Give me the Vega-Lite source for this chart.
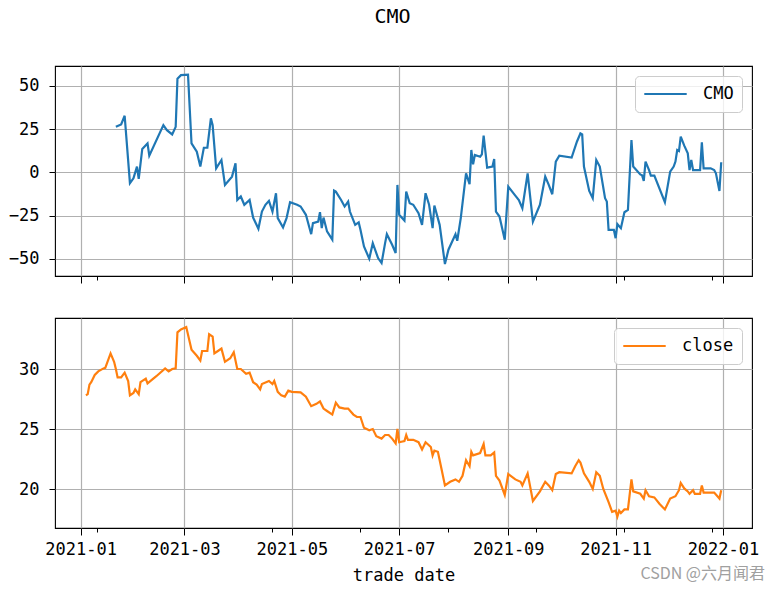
{
  "$schema": "https://vega.github.io/schema/vega-lite/v6.json",
  "padding": {"left": 7, "top": 7, "right": 0, "bottom": 0},
  "background": "white",
  "title": {"text": "CMO", "font": "DejaVu Sans Mono", "fontSize": 20, "fontWeight": "normal", "color": "#000", "anchor": "middle", "frame": "group", "dx": -11, "offset": 38},
  "datasets": {
    "cmo": [
      {"trade_date": "2021-01-21", "CMO": 26.3},
      {"trade_date": "2021-01-24", "CMO": 27.7},
      {"trade_date": "2021-01-26", "CMO": 32.7},
      {"trade_date": "2021-01-29", "CMO": -6.3},
      {"trade_date": "2021-01-31", "CMO": -3.5},
      {"trade_date": "2021-02-02", "CMO": 3.3},
      {"trade_date": "2021-02-03", "CMO": -3.8},
      {"trade_date": "2021-02-05", "CMO": 13.5},
      {"trade_date": "2021-02-08", "CMO": 16.7},
      {"trade_date": "2021-02-09", "CMO": 9.6},
      {"trade_date": "2021-02-17", "CMO": 27.3},
      {"trade_date": "2021-02-19", "CMO": 24.4},
      {"trade_date": "2021-02-22", "CMO": 21.9},
      {"trade_date": "2021-02-24", "CMO": 26.3},
      {"trade_date": "2021-02-25", "CMO": 54.2},
      {"trade_date": "2021-02-27", "CMO": 56.2},
      {"trade_date": "2021-03-03", "CMO": 56.5},
      {"trade_date": "2021-03-05", "CMO": 16.7},
      {"trade_date": "2021-03-08", "CMO": 11.9},
      {"trade_date": "2021-03-10", "CMO": 3.3},
      {"trade_date": "2021-03-12", "CMO": 14.2},
      {"trade_date": "2021-03-14", "CMO": 14.2},
      {"trade_date": "2021-03-16", "CMO": 31.2},
      {"trade_date": "2021-03-17", "CMO": 27.3},
      {"trade_date": "2021-03-19", "CMO": 2.3},
      {"trade_date": "2021-03-22", "CMO": 7.1},
      {"trade_date": "2021-03-24", "CMO": -7.3},
      {"trade_date": "2021-03-28", "CMO": -2.5},
      {"trade_date": "2021-03-30", "CMO": 5.2},
      {"trade_date": "2021-03-31", "CMO": -16},
      {"trade_date": "2021-04-02", "CMO": -14},
      {"trade_date": "2021-04-04", "CMO": -18.8},
      {"trade_date": "2021-04-07", "CMO": -16},
      {"trade_date": "2021-04-09", "CMO": -26.2},
      {"trade_date": "2021-04-12", "CMO": -32.7},
      {"trade_date": "2021-04-14", "CMO": -22.7},
      {"trade_date": "2021-04-16", "CMO": -18.8},
      {"trade_date": "2021-04-18", "CMO": -16.5},
      {"trade_date": "2021-04-20", "CMO": -22.7},
      {"trade_date": "2021-04-22", "CMO": -12.1},
      {"trade_date": "2021-04-23", "CMO": -26.5},
      {"trade_date": "2021-04-26", "CMO": -31.9},
      {"trade_date": "2021-04-28", "CMO": -26.5},
      {"trade_date": "2021-04-30", "CMO": -17.3},
      {"trade_date": "2021-05-04", "CMO": -18.8},
      {"trade_date": "2021-05-06", "CMO": -19.8},
      {"trade_date": "2021-05-09", "CMO": -24.6},
      {"trade_date": "2021-05-12", "CMO": -35.8},
      {"trade_date": "2021-05-13", "CMO": -29.4},
      {"trade_date": "2021-05-16", "CMO": -28.5},
      {"trade_date": "2021-05-17", "CMO": -23.1},
      {"trade_date": "2021-05-18", "CMO": -32.3},
      {"trade_date": "2021-05-19", "CMO": -26.2},
      {"trade_date": "2021-05-21", "CMO": -34.2},
      {"trade_date": "2021-05-24", "CMO": -39},
      {"trade_date": "2021-05-25", "CMO": -10.6},
      {"trade_date": "2021-05-26", "CMO": -11.2},
      {"trade_date": "2021-05-29", "CMO": -16},
      {"trade_date": "2021-05-31", "CMO": -19.8},
      {"trade_date": "2021-06-02", "CMO": -16.9},
      {"trade_date": "2021-06-03", "CMO": -22.7},
      {"trade_date": "2021-06-06", "CMO": -30.4},
      {"trade_date": "2021-06-08", "CMO": -29},
      {"trade_date": "2021-06-09", "CMO": -33.3},
      {"trade_date": "2021-06-11", "CMO": -42.9},
      {"trade_date": "2021-06-14", "CMO": -50},
      {"trade_date": "2021-06-16", "CMO": -41},
      {"trade_date": "2021-06-19", "CMO": -49.6},
      {"trade_date": "2021-06-21", "CMO": -52.5},
      {"trade_date": "2021-06-23", "CMO": -41},
      {"trade_date": "2021-06-24", "CMO": -35.8},
      {"trade_date": "2021-06-27", "CMO": -41.9},
      {"trade_date": "2021-06-29", "CMO": -46.7},
      {"trade_date": "2021-06-30", "CMO": -7.3},
      {"trade_date": "2021-07-01", "CMO": -24.6},
      {"trade_date": "2021-07-04", "CMO": -27.9},
      {"trade_date": "2021-07-05", "CMO": -11.2},
      {"trade_date": "2021-07-07", "CMO": -17.9},
      {"trade_date": "2021-07-09", "CMO": -18.8},
      {"trade_date": "2021-07-12", "CMO": -23.7},
      {"trade_date": "2021-07-14", "CMO": -30.4},
      {"trade_date": "2021-07-16", "CMO": -12.1},
      {"trade_date": "2021-07-18", "CMO": -18.8},
      {"trade_date": "2021-07-20", "CMO": -32.3},
      {"trade_date": "2021-07-21", "CMO": -19.2},
      {"trade_date": "2021-07-24", "CMO": -30.4},
      {"trade_date": "2021-07-27", "CMO": -53.1},
      {"trade_date": "2021-07-29", "CMO": -44.8},
      {"trade_date": "2021-08-02", "CMO": -35.8},
      {"trade_date": "2021-08-03", "CMO": -39.6},
      {"trade_date": "2021-08-05", "CMO": -26.5},
      {"trade_date": "2021-08-08", "CMO": -0.6},
      {"trade_date": "2021-08-10", "CMO": -6.9},
      {"trade_date": "2021-08-11", "CMO": 12.9},
      {"trade_date": "2021-08-12", "CMO": 4.6},
      {"trade_date": "2021-08-13", "CMO": 10},
      {"trade_date": "2021-08-16", "CMO": 9},
      {"trade_date": "2021-08-17", "CMO": 10.4},
      {"trade_date": "2021-08-18", "CMO": 21.2},
      {"trade_date": "2021-08-20", "CMO": 2.7},
      {"trade_date": "2021-08-23", "CMO": 3.3},
      {"trade_date": "2021-08-24", "CMO": 7.7},
      {"trade_date": "2021-08-25", "CMO": -22.7},
      {"trade_date": "2021-08-27", "CMO": -25.6},
      {"trade_date": "2021-08-30", "CMO": -39},
      {"trade_date": "2021-09-01", "CMO": -8.3},
      {"trade_date": "2021-09-05", "CMO": -13.5},
      {"trade_date": "2021-09-07", "CMO": -16},
      {"trade_date": "2021-09-09", "CMO": -20.8},
      {"trade_date": "2021-09-12", "CMO": -0.6},
      {"trade_date": "2021-09-15", "CMO": -28.5},
      {"trade_date": "2021-09-19", "CMO": -18.8},
      {"trade_date": "2021-09-22", "CMO": -2.5},
      {"trade_date": "2021-09-24", "CMO": -7.3},
      {"trade_date": "2021-09-26", "CMO": -12.7},
      {"trade_date": "2021-09-28", "CMO": 6.2},
      {"trade_date": "2021-09-30", "CMO": 9.6},
      {"trade_date": "2021-10-07", "CMO": 8.5},
      {"trade_date": "2021-10-10", "CMO": 17.7},
      {"trade_date": "2021-10-12", "CMO": 22.5},
      {"trade_date": "2021-10-13", "CMO": 21.9},
      {"trade_date": "2021-10-14", "CMO": 3.3},
      {"trade_date": "2021-10-17", "CMO": -10.8},
      {"trade_date": "2021-10-19", "CMO": -15},
      {"trade_date": "2021-10-21", "CMO": 7.1},
      {"trade_date": "2021-10-23", "CMO": 3.3},
      {"trade_date": "2021-10-26", "CMO": -15},
      {"trade_date": "2021-10-27", "CMO": -16.9},
      {"trade_date": "2021-10-28", "CMO": -33.3},
      {"trade_date": "2021-10-31", "CMO": -33.3},
      {"trade_date": "2021-11-01", "CMO": -38.1},
      {"trade_date": "2021-11-02", "CMO": -30},
      {"trade_date": "2021-11-04", "CMO": -32.3},
      {"trade_date": "2021-11-06", "CMO": -23.1},
      {"trade_date": "2021-11-08", "CMO": -21.7},
      {"trade_date": "2021-11-10", "CMO": 18.7},
      {"trade_date": "2021-11-11", "CMO": 3.3},
      {"trade_date": "2021-11-15", "CMO": -1.2},
      {"trade_date": "2021-11-16", "CMO": -1.7},
      {"trade_date": "2021-11-17", "CMO": -5},
      {"trade_date": "2021-11-18", "CMO": 6.2},
      {"trade_date": "2021-11-20", "CMO": 1.3},
      {"trade_date": "2021-11-21", "CMO": -1.9},
      {"trade_date": "2021-11-23", "CMO": -1.9},
      {"trade_date": "2021-11-29", "CMO": -17.3},
      {"trade_date": "2021-12-02", "CMO": 0.4},
      {"trade_date": "2021-12-04", "CMO": 3.3},
      {"trade_date": "2021-12-05", "CMO": 6.2},
      {"trade_date": "2021-12-06", "CMO": 12.9},
      {"trade_date": "2021-12-07", "CMO": 12.3},
      {"trade_date": "2021-12-08", "CMO": 20.6},
      {"trade_date": "2021-12-10", "CMO": 15.4},
      {"trade_date": "2021-12-12", "CMO": 11},
      {"trade_date": "2021-12-13", "CMO": 1.3},
      {"trade_date": "2021-12-14", "CMO": 7.1},
      {"trade_date": "2021-12-15", "CMO": 1.3},
      {"trade_date": "2021-12-19", "CMO": 1.3},
      {"trade_date": "2021-12-20", "CMO": 17.3},
      {"trade_date": "2021-12-21", "CMO": 2.3},
      {"trade_date": "2021-12-25", "CMO": 2.3},
      {"trade_date": "2021-12-27", "CMO": 1.3},
      {"trade_date": "2021-12-28", "CMO": -0.6},
      {"trade_date": "2021-12-30", "CMO": -10.8},
      {"trade_date": "2021-12-31", "CMO": 5.8}
    ],
    "close": [
      {"trade_date": "2021-01-04", "close": 27.8},
      {"trade_date": "2021-01-05", "close": 27.9},
      {"trade_date": "2021-01-06", "close": 28.7},
      {"trade_date": "2021-01-07", "close": 28.9},
      {"trade_date": "2021-01-09", "close": 29.5},
      {"trade_date": "2021-01-11", "close": 29.8},
      {"trade_date": "2021-01-14", "close": 30.05},
      {"trade_date": "2021-01-15", "close": 30.1},
      {"trade_date": "2021-01-18", "close": 31.3},
      {"trade_date": "2021-01-20", "close": 30.6},
      {"trade_date": "2021-01-21", "close": 30.0},
      {"trade_date": "2021-01-22", "close": 29.3},
      {"trade_date": "2021-01-24", "close": 29.3},
      {"trade_date": "2021-01-26", "close": 29.7},
      {"trade_date": "2021-01-28", "close": 29.0},
      {"trade_date": "2021-01-29", "close": 27.8},
      {"trade_date": "2021-01-31", "close": 28.0},
      {"trade_date": "2021-02-01", "close": 28.3},
      {"trade_date": "2021-02-03", "close": 27.9},
      {"trade_date": "2021-02-04", "close": 28.9},
      {"trade_date": "2021-02-07", "close": 29.2},
      {"trade_date": "2021-02-08", "close": 28.8},
      {"trade_date": "2021-02-13", "close": 29.4},
      {"trade_date": "2021-02-18", "close": 30.05},
      {"trade_date": "2021-02-20", "close": 29.8},
      {"trade_date": "2021-02-22", "close": 30.0},
      {"trade_date": "2021-02-24", "close": 30.05},
      {"trade_date": "2021-02-25", "close": 33.05},
      {"trade_date": "2021-02-27", "close": 33.3},
      {"trade_date": "2021-03-02", "close": 33.5},
      {"trade_date": "2021-03-05", "close": 31.6},
      {"trade_date": "2021-03-08", "close": 31.1},
      {"trade_date": "2021-03-10", "close": 30.7},
      {"trade_date": "2021-03-11", "close": 31.5},
      {"trade_date": "2021-03-14", "close": 31.5},
      {"trade_date": "2021-03-15", "close": 32.9},
      {"trade_date": "2021-03-17", "close": 32.7},
      {"trade_date": "2021-03-18", "close": 31.3},
      {"trade_date": "2021-03-20", "close": 31.5},
      {"trade_date": "2021-03-22", "close": 31.7},
      {"trade_date": "2021-03-24", "close": 30.6},
      {"trade_date": "2021-03-27", "close": 30.9},
      {"trade_date": "2021-03-29", "close": 31.4},
      {"trade_date": "2021-03-31", "close": 30.0},
      {"trade_date": "2021-04-02", "close": 30.0},
      {"trade_date": "2021-04-05", "close": 29.6},
      {"trade_date": "2021-04-07", "close": 29.7},
      {"trade_date": "2021-04-09", "close": 28.9},
      {"trade_date": "2021-04-11", "close": 28.7},
      {"trade_date": "2021-04-13", "close": 28.3},
      {"trade_date": "2021-04-14", "close": 28.75},
      {"trade_date": "2021-04-18", "close": 29.0},
      {"trade_date": "2021-04-20", "close": 28.75},
      {"trade_date": "2021-04-21", "close": 29.0},
      {"trade_date": "2021-04-23", "close": 28.1},
      {"trade_date": "2021-04-25", "close": 27.8},
      {"trade_date": "2021-04-27", "close": 27.7},
      {"trade_date": "2021-04-29", "close": 28.2},
      {"trade_date": "2021-05-01", "close": 28.1},
      {"trade_date": "2021-05-06", "close": 28.05},
      {"trade_date": "2021-05-09", "close": 27.7},
      {"trade_date": "2021-05-12", "close": 26.9},
      {"trade_date": "2021-05-15", "close": 27.1},
      {"trade_date": "2021-05-17", "close": 27.3},
      {"trade_date": "2021-05-19", "close": 26.7},
      {"trade_date": "2021-05-21", "close": 26.5},
      {"trade_date": "2021-05-24", "close": 26.2},
      {"trade_date": "2021-05-26", "close": 27.2},
      {"trade_date": "2021-05-28", "close": 26.8},
      {"trade_date": "2021-05-31", "close": 26.7},
      {"trade_date": "2021-06-02", "close": 26.7},
      {"trade_date": "2021-06-05", "close": 26.2},
      {"trade_date": "2021-06-07", "close": 26.0},
      {"trade_date": "2021-06-09", "close": 26.0},
      {"trade_date": "2021-06-11", "close": 25.1},
      {"trade_date": "2021-06-14", "close": 24.9},
      {"trade_date": "2021-06-16", "close": 25.0},
      {"trade_date": "2021-06-18", "close": 24.4},
      {"trade_date": "2021-06-21", "close": 24.2},
      {"trade_date": "2021-06-23", "close": 24.5},
      {"trade_date": "2021-06-25", "close": 24.5},
      {"trade_date": "2021-06-27", "close": 24.2},
      {"trade_date": "2021-06-29", "close": 23.8},
      {"trade_date": "2021-06-30", "close": 25.0},
      {"trade_date": "2021-07-01", "close": 23.9},
      {"trade_date": "2021-07-04", "close": 24.0},
      {"trade_date": "2021-07-05", "close": 24.5},
      {"trade_date": "2021-07-06", "close": 24.1},
      {"trade_date": "2021-07-09", "close": 24.1},
      {"trade_date": "2021-07-12", "close": 23.9},
      {"trade_date": "2021-07-14", "close": 23.3},
      {"trade_date": "2021-07-16", "close": 23.9},
      {"trade_date": "2021-07-19", "close": 23.5},
      {"trade_date": "2021-07-20", "close": 22.8},
      {"trade_date": "2021-07-21", "close": 23.2},
      {"trade_date": "2021-07-23", "close": 23.1},
      {"trade_date": "2021-07-25", "close": 21.7},
      {"trade_date": "2021-07-27", "close": 20.3},
      {"trade_date": "2021-07-30", "close": 20.6},
      {"trade_date": "2021-08-02", "close": 20.8},
      {"trade_date": "2021-08-04", "close": 20.6},
      {"trade_date": "2021-08-06", "close": 21.1},
      {"trade_date": "2021-08-08", "close": 22.4},
      {"trade_date": "2021-08-10", "close": 21.9},
      {"trade_date": "2021-08-11", "close": 23.1},
      {"trade_date": "2021-08-12", "close": 22.8},
      {"trade_date": "2021-08-16", "close": 23.0},
      {"trade_date": "2021-08-18", "close": 23.75},
      {"trade_date": "2021-08-19", "close": 22.8},
      {"trade_date": "2021-08-22", "close": 22.8},
      {"trade_date": "2021-08-24", "close": 23.05},
      {"trade_date": "2021-08-25", "close": 21.1},
      {"trade_date": "2021-08-27", "close": 20.7},
      {"trade_date": "2021-08-30", "close": 19.5},
      {"trade_date": "2021-09-01", "close": 21.25},
      {"trade_date": "2021-09-05", "close": 20.8},
      {"trade_date": "2021-09-08", "close": 20.6},
      {"trade_date": "2021-09-09", "close": 20.3},
      {"trade_date": "2021-09-12", "close": 21.3},
      {"trade_date": "2021-09-15", "close": 19.0},
      {"trade_date": "2021-09-19", "close": 19.8},
      {"trade_date": "2021-09-22", "close": 20.6},
      {"trade_date": "2021-09-24", "close": 20.3},
      {"trade_date": "2021-09-26", "close": 19.9},
      {"trade_date": "2021-09-28", "close": 21.25},
      {"trade_date": "2021-09-30", "close": 21.4},
      {"trade_date": "2021-10-07", "close": 21.3},
      {"trade_date": "2021-10-09", "close": 21.9},
      {"trade_date": "2021-10-11", "close": 22.4},
      {"trade_date": "2021-10-12", "close": 22.2},
      {"trade_date": "2021-10-14", "close": 21.3},
      {"trade_date": "2021-10-17", "close": 20.6},
      {"trade_date": "2021-10-19", "close": 20.0},
      {"trade_date": "2021-10-21", "close": 21.4},
      {"trade_date": "2021-10-23", "close": 21.1},
      {"trade_date": "2021-10-25", "close": 20.0},
      {"trade_date": "2021-10-28", "close": 18.9},
      {"trade_date": "2021-10-30", "close": 18.1},
      {"trade_date": "2021-11-01", "close": 18.2},
      {"trade_date": "2021-11-02", "close": 17.7},
      {"trade_date": "2021-11-03", "close": 18.2},
      {"trade_date": "2021-11-04", "close": 18.0},
      {"trade_date": "2021-11-06", "close": 18.3},
      {"trade_date": "2021-11-08", "close": 18.3},
      {"trade_date": "2021-11-10", "close": 20.8},
      {"trade_date": "2021-11-11", "close": 19.8},
      {"trade_date": "2021-11-15", "close": 19.6},
      {"trade_date": "2021-11-17", "close": 19.2},
      {"trade_date": "2021-11-18", "close": 19.9},
      {"trade_date": "2021-11-20", "close": 19.4},
      {"trade_date": "2021-11-23", "close": 19.3},
      {"trade_date": "2021-11-26", "close": 18.75},
      {"trade_date": "2021-11-29", "close": 18.3},
      {"trade_date": "2021-12-02", "close": 19.2},
      {"trade_date": "2021-12-05", "close": 19.4},
      {"trade_date": "2021-12-07", "close": 19.9},
      {"trade_date": "2021-12-08", "close": 20.5},
      {"trade_date": "2021-12-10", "close": 20.05},
      {"trade_date": "2021-12-12", "close": 19.8},
      {"trade_date": "2021-12-13", "close": 19.6},
      {"trade_date": "2021-12-15", "close": 19.9},
      {"trade_date": "2021-12-16", "close": 19.6},
      {"trade_date": "2021-12-19", "close": 19.6},
      {"trade_date": "2021-12-20", "close": 20.3},
      {"trade_date": "2021-12-21", "close": 19.7},
      {"trade_date": "2021-12-25", "close": 19.7},
      {"trade_date": "2021-12-27", "close": 19.7},
      {"trade_date": "2021-12-30", "close": 19.2},
      {"trade_date": "2021-12-31", "close": 19.9}
    ]
  },
  "vconcat": [
    {
      "width": 697,
      "height": 210,
      "data": {"name": "cmo"},
      "mark": {"type": "line", "strokeWidth": 2.2},
      "encoding": {
        "x": {
          "field": "trade_date", "type": "temporal",
          "scale": {"type": "utc", "domain": [{"year": 2020, "month": 12, "date": 17, "hours": 10, "utc": true}, {"year": 2022, "month": 1, "date": 17, "hours": 12, "utc": true}]},
          "axis": {
            "title": null, "labels": false,
            "values": [
              {"year": 2021, "month": 1, "date": 1, "utc": true},
              {"year": 2021, "month": 1, "date": 10, "utc": true},
              {"year": 2021, "month": 3, "date": 1, "utc": true},
              {"year": 2021, "month": 4, "date": 20, "utc": true},
              {"year": 2021, "month": 5, "date": 1, "utc": true},
              {"year": 2021, "month": 6, "date": 9, "utc": true},
              {"year": 2021, "month": 7, "date": 1, "utc": true},
              {"year": 2021, "month": 7, "date": 29, "utc": true},
              {"year": 2021, "month": 9, "date": 1, "utc": true},
              {"year": 2021, "month": 9, "date": 17, "utc": true},
              {"year": 2021, "month": 11, "date": 1, "utc": true},
              {"year": 2021, "month": 11, "date": 6, "utc": true},
              {"year": 2021, "month": 12, "date": 26, "utc": true},
              {"year": 2022, "month": 1, "date": 1, "utc": true}
            ],
            "tickSize": {"condition": {"test": "utcdate(datum.value) == 1", "value": 7}, "value": 4},
            "gridOpacity": {"condition": {"test": "utcdate(datum.value) == 1", "value": 1}, "value": 0}
          }
        },
        "y": {
          "field": "CMO", "type": "quantitative",
          "scale": {"domain": [-60, 61.5], "nice": false, "zero": false},
          "axis": {"title": null, "values": [-50, -25, 0, 25, 50]}
        },
        "color": {"datum": "CMO", "scale": {"range": ["#1f77b4"]}, "legend": {"title": null}}
      }
    },
    {
      "width": 697,
      "height": 210,
      "data": {"name": "close"},
      "title": {"text": "CSDN @六月闻君", "orient": "bottom", "anchor": "end", "frame": "group", "font": "Noto Sans CJK SC", "fontSize": 16, "fontWeight": "normal", "color": "#a0a0a0", "offset": -17, "dx": 13},
      "mark": {"type": "line", "strokeWidth": 2.2},
      "encoding": {
        "x": {
          "field": "trade_date", "type": "temporal",
          "scale": {"type": "utc", "domain": [{"year": 2020, "month": 12, "date": 17, "hours": 10, "utc": true}, {"year": 2022, "month": 1, "date": 17, "hours": 12, "utc": true}]},
          "axis": {
            "title": "trade_date",
            "values": [
              {"year": 2021, "month": 1, "date": 1, "utc": true},
              {"year": 2021, "month": 1, "date": 10, "utc": true},
              {"year": 2021, "month": 3, "date": 1, "utc": true},
              {"year": 2021, "month": 4, "date": 20, "utc": true},
              {"year": 2021, "month": 5, "date": 1, "utc": true},
              {"year": 2021, "month": 6, "date": 9, "utc": true},
              {"year": 2021, "month": 7, "date": 1, "utc": true},
              {"year": 2021, "month": 7, "date": 29, "utc": true},
              {"year": 2021, "month": 9, "date": 1, "utc": true},
              {"year": 2021, "month": 9, "date": 17, "utc": true},
              {"year": 2021, "month": 11, "date": 1, "utc": true},
              {"year": 2021, "month": 11, "date": 6, "utc": true},
              {"year": 2021, "month": 12, "date": 26, "utc": true},
              {"year": 2022, "month": 1, "date": 1, "utc": true}
            ],
            "labelExpr": "utcdate(datum.value) == 1 ? utcFormat(datum.value, '%Y-%m') : ''",
            "tickSize": {"condition": {"test": "utcdate(datum.value) == 1", "value": 7}, "value": 4},
            "gridOpacity": {"condition": {"test": "utcdate(datum.value) == 1", "value": 1}, "value": 0}
          }
        },
        "y": {
          "field": "close", "type": "quantitative",
          "scale": {"domain": [16.75, 34.25], "nice": false, "zero": false},
          "axis": {"title": null, "values": [20, 25, 30]}
        },
        "color": {"datum": "close", "scale": {"range": ["#ff7f0e"]}, "legend": {"title": null}}
      }
    }
  ],
  "spacing": 42,
  "bounds": "flush",
  "resolve": {"scale": {"color": "independent", "x": "shared"}, "legend": {"color": "independent"}},
  "config": {
    "view": {"stroke": "#000000", "strokeWidth": 1.1},
    "axis": {
      "domain": false,
      "grid": true,
      "gridColor": "#b0b0b0",
      "gridWidth": 1.2,
      "tickColor": "#000000",
      "tickWidth": 1,
      "tickSize": 6,
      "labelFont": "DejaVu Sans Mono",
      "labelFontSize": 17,
      "labelColor": "#000000",
      "labelFlush": false,
      "labelOverlap": false,
      "titleFont": "DejaVu Sans Mono",
      "titleFontSize": 17,
      "titleFontWeight": "normal",
      "titleColor": "#000000"
    },
    "axisY": {"labelPadding": 10},
    "axisX": {"labelPadding": 6, "titlePadding": 10},
    "legend": {
      "orient": "top-right",
      "offset": 10,
      "padding": 8,
      "clipHeight": 20,
      "strokeColor": "#cccccc",
      "fillColor": "rgba(255,255,255,0.8)",
      "cornerRadius": 4,
      "symbolType": "stroke",
      "symbolSize": 1800,
      "symbolStrokeWidth": 2.2,
      "labelFont": "DejaVu Sans Mono",
      "labelFontSize": 17,
      "labelColor": "#000000",
      "labelOffset": 15
    }
  }
}
